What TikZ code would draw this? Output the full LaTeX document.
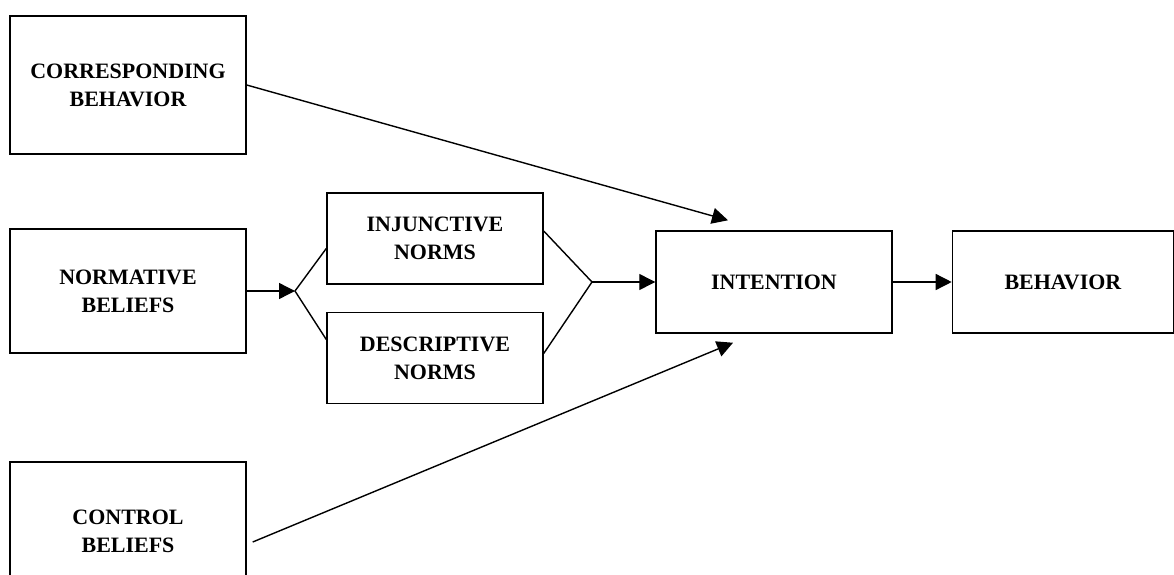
\documentclass[tikz,border=0pt]{standalone}
\usepackage{fontspec}
\setmainfont{Liberation Serif}
\usetikzlibrary{shapes,arrows.meta,positioning}

\begin{document}
\begin{tikzpicture}[x=0.02cm, y=-0.02cm]

    \tikzstyle{block} = [
        rectangle,
        draw,
        line width=0.85pt,
        minimum width=4.72cm,
        minimum height=2.76cm,
        align=center,
        font=\fontsize{12.5}{16}\selectfont\bfseries
    ]
    \tikzstyle{small} = [
        block,
        minimum width=4.32cm,
        minimum height=1.82cm,
    ]
    \tikzstyle{line} = [
        draw,
        line width=0.8pt,
        -{Triangle[length=0.32cm,width=0.32cm]},
    ]

    \path [use as bounding box, clip] (0,0) rectangle (1174,575);

    \node [block]                        (cor) at (128,85)    {CORRESPONDING\\BEHAVIOR};
    \node [block, minimum height=2.48cm] (nor) at (128,291)   {NORMATIVE\\BELIEFS};
    \node [block]                        (con) at (128,531)   {CONTROL\\BELIEFS};

    \node [small]                        (inj) at (435,238.5) {INJUNCTIVE\\NORMS};
    \node [small, below = 0.54cm of inj] (des)                {DESCRIPTIVE\\NORMS};

    \node [block, minimum height=2.04cm] (int) at (774,282)   {INTENTION};
    \node [block, 
        minimum width=4.42cm,
        minimum height=2.04cm,
        right = 1.18cm of int
    ](beh) {BEHAVIOR};

    \coordinate (spl) at (295,291);
    \coordinate (mrg) at (592,282);

    \path [line] (nor) -- (spl);
    \draw [line width=0.8pt] ([yshift=-0.2cm]inj.west) -- (spl) -- ([yshift=0.37cm]des.west);
    \draw [line width=0.8pt] ([yshift=0.15cm]inj.east) -- (mrg) -- ([yshift=0.09cm]des.east);
    \path [line] (mrg) -- (mrg -| int.west);
    \path [line] (int) -- (beh);

    \path [line] (cor.east) -- ([shift={(-0.92cm,0.2cm)}]int.north);
    \path [line] ([shift={(0.12cm,-0.22cm)}]con.east) -- ([shift={(-0.82cm,-0.18cm)}]int.south);

\end{tikzpicture}
\end{document}
